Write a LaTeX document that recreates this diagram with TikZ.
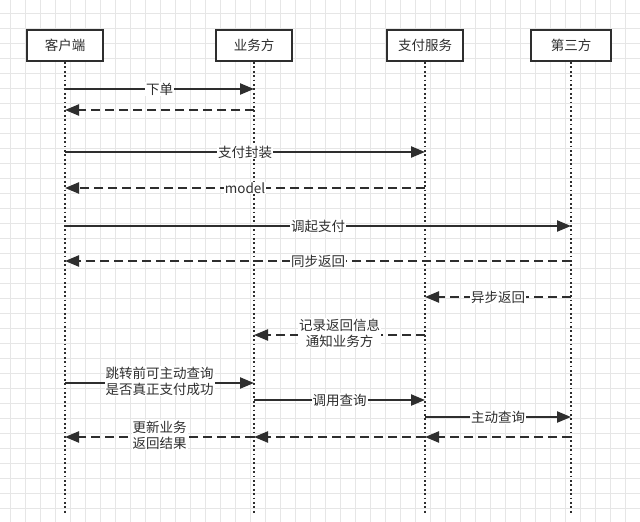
\documentclass[tikz,border=0pt]{standalone}
\usepackage{fontspec}
\newfontfamily\cjk{Noto Sans CJK SC}
\usetikzlibrary{arrows.meta,positioning,calc}
\definecolor{ink}{HTML}{2E2E2E}
\definecolor{gridc}{HTML}{E6E6E6}

\begin{document}
\begin{tikzpicture}[
            x=1pt, y=-1pt,
            actor/.style={draw=ink, line width=2pt, fill=white, minimum width=76pt, minimum height=31pt, inner sep=0pt, text=ink, font=\cjk\fontsize{13.5}{16}\selectfont},
            life/.style={draw=ink, line width=1.8pt, dash pattern=on 1.8pt off 2.6pt},
            msg/.style={draw=ink, line width=2.2pt, -{Triangle[length=14pt,width=11pt]}},
            ret/.style={msg, dash pattern=on 9pt off 5pt},
            lab/.style={fill=white, inner sep=1pt, text=ink, align=center, font=\cjk\fontsize{13.5}{16}\selectfont}
        ]

% --- background and grid ---
            \useasboundingbox[fill=white] (0,0) rectangle (640,522);
            \foreach \gx in {10,25,...,640} \draw[gridc, line width=0.9pt] (\gx,0) -- (\gx,522);
            \foreach \gy in {13,28,...,522} \draw[gridc, line width=0.9pt] (0,\gy) -- (640,\gy);

% --- actors ---
            \node[actor] (kh) at (65,45.5) {客户端};
            \node[actor] (yw) at (254,45.5) {业务方};
            \node[actor] (zf) at (425,45.5) {支付服务};
            \node[actor, minimum width=80pt] (ds) at (571,45.5) {第三方};

% --- lifelines ---
            \coordinate (khE) at (65,515);
            \coordinate (ywE) at (254,515);
            \coordinate (zfE) at (425,515);
            \coordinate (dsE) at (571,515);
            \draw[life] (kh.south) -- (khE);
            \draw[life] (yw.south) -- (ywE);
            \draw[life] (zf.south) -- (zfE);
            \draw[life] (ds.south) -- (dsE);

% --- points on lifelines ---
            \coordinate (kh1) at (65,89);    \coordinate (yw1) at (254,89);
            \coordinate (kh2) at (65,110);   \coordinate (yw2) at (254,110);
            \coordinate (kh3) at (65,152);   \coordinate (zf3) at (425,152);
            \coordinate (kh4) at (65,188);   \coordinate (zf4) at (425,188);
            \coordinate (kh5) at (65,226);   \coordinate (ds5) at (571,226);
            \coordinate (kh6) at (65,261);   \coordinate (ds6) at (571,261);
            \coordinate (zf7) at (425,297);  \coordinate (ds7) at (571,297);
            \coordinate (yw8) at (254,335);  \coordinate (zf8) at (425,335);
            \coordinate (kh9) at (65,383);   \coordinate (yw9) at (254,383);
            \coordinate (yw10) at (254,400); \coordinate (zf10) at (425,400);
            \coordinate (zf11) at (425,417); \coordinate (ds11) at (571,417);
            \coordinate (kh12) at (65,437);  \coordinate (yw12) at (254,437);
            \coordinate (zf12) at (425,437); \coordinate (ds12) at (571,437);

% --- order ---
            \draw[msg] (kh1) -- node[lab] {下单} (yw1);
            \draw[ret] (yw2) -- (kh2);

% --- payment ---
            \draw[msg] (kh3) -- node[lab] {支付封装} (zf3);
            \draw[ret] (zf4) -- node[lab] {model} (kh4);
            \draw[msg] (kh5) -- node[lab] {调起支付} (ds5);
            \draw[ret] (ds6) -- node[lab] {同步返回} (kh6);

% --- async notify ---
            \draw[ret] (ds7) -- node[lab] {异步返回} (zf7);
            \draw[ret] (zf8) -- node[lab, yshift=2pt] {记录返回信息\\通知业务方} (yw8);

% --- active query ---
            \draw[msg] (kh9) -- node[lab, yshift=2pt] {跳转前可主动查询\\是否真正支付成功} (yw9);
            \draw[msg] (yw10) -- node[lab] {调用查询} (zf10);
            \draw[msg] (zf11) -- node[lab] {主动查询} (ds11);
            \draw[ret] (ds12) -- (zf12);
            \draw[ret] (zf12) -- (yw12);
            \draw[ret] (yw12) -- node[lab, yshift=2pt] {更新业务\\返回结果} (kh12);

        \end{tikzpicture}
\end{document}
